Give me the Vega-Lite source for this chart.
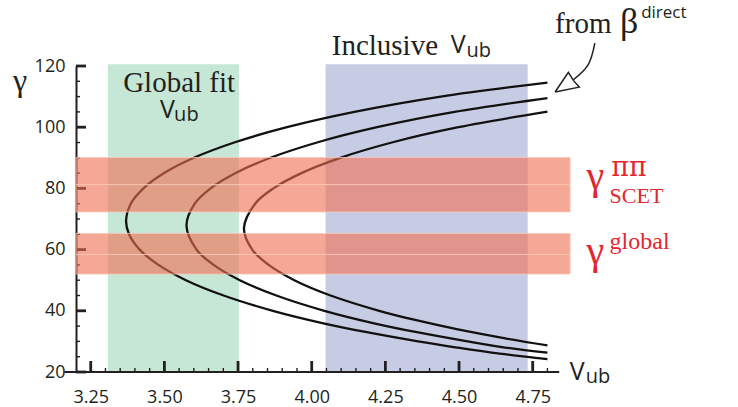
{
  "$schema": "https://vega.github.io/schema/vega-lite/v6.json",
  "width": 495,
  "height": 306,
  "autosize": {"type": "none"},
  "padding": {"left": 76, "top": 66, "right": 167, "bottom": 35},
  "background": "white",
  "config": {"view": {"stroke": null}},
  "datasets": {
    "green": [{"x": 3.308, "x2": 3.753, "y": 20, "y2": 120.6}],
    "blue": [{"x": 4.047, "x2": 4.733, "y": 20, "y2": 120.6}],
    "red": [
      {"x": 3.2, "x2": 4.877, "y": 81.2, "y2": 90.1},
      {"x": 3.2, "x2": 4.877, "y": 72.3, "y2": 81.2},
      {"x": 3.2, "x2": 4.877, "y": 58.4, "y2": 65.3},
      {"x": 3.2, "x2": 4.877, "y": 52.0, "y2": 58.4}
    ],
    "xMajor": [{"v": 3.25}, {"v": 3.5}, {"v": 3.75}, {"v": 4.0}, {"v": 4.25}, {"v": 4.5}, {"v": 4.75}],
    "xMinor": [{"v": 3.3}, {"v": 3.35}, {"v": 3.4}, {"v": 3.45}, {"v": 3.55}, {"v": 3.6}, {"v": 3.65}, {"v": 3.7},
      {"v": 3.8}, {"v": 3.85}, {"v": 3.9}, {"v": 3.95}, {"v": 4.05}, {"v": 4.1}, {"v": 4.15}, {"v": 4.2},
      {"v": 4.3}, {"v": 4.35}, {"v": 4.4}, {"v": 4.45}, {"v": 4.55}, {"v": 4.6}, {"v": 4.65}, {"v": 4.7}, {"v": 4.8}],
    "yMajor": [{"g": 20}, {"g": 40}, {"g": 60}, {"g": 80}, {"g": 100}, {"g": 120}],
    "yMinor": [{"g": 25}, {"g": 30}, {"g": 35}, {"g": 45}, {"g": 50}, {"g": 55}, {"g": 65}, {"g": 70}, {"g": 75},
      {"g": 85}, {"g": 90}, {"g": 95}, {"g": 105}, {"g": 110}, {"g": 115}],
    "curves": [
      {"c": 1, "i": 0, "v": 4.800, "g": 24.2}, {"c": 1, "i": 1, "v": 4.638, "g": 26}, {"c": 1, "i": 2, "v": 4.493, "g": 28},
      {"c": 1, "i": 3, "v": 4.361, "g": 30}, {"c": 1, "i": 4, "v": 4.187, "g": 33}, {"c": 1, "i": 5, "v": 4.036, "g": 36},
      {"c": 1, "i": 6, "v": 3.868, "g": 40}, {"c": 1, "i": 7, "v": 3.701, "g": 45}, {"c": 1, "i": 8, "v": 3.573, "g": 50},
      {"c": 1, "i": 9, "v": 3.480, "g": 55}, {"c": 1, "i": 10, "v": 3.416, "g": 60}, {"c": 1, "i": 11, "v": 3.380, "g": 65},
      {"c": 1, "i": 12, "v": 3.370, "g": 69.4}, {"c": 1, "i": 13, "v": 3.386, "g": 75}, {"c": 1, "i": 14, "v": 3.429, "g": 80},
      {"c": 1, "i": 15, "v": 3.499, "g": 85}, {"c": 1, "i": 16, "v": 3.600, "g": 90}, {"c": 1, "i": 17, "v": 3.737, "g": 95},
      {"c": 1, "i": 18, "v": 3.916, "g": 100}, {"c": 1, "i": 19, "v": 4.145, "g": 105}, {"c": 1, "i": 20, "v": 4.438, "g": 110},
      {"c": 1, "i": 21, "v": 4.800, "g": 114.6},
      {"c": 2, "i": 0, "v": 4.800, "g": 26.3}, {"c": 2, "i": 1, "v": 4.656, "g": 28}, {"c": 2, "i": 2, "v": 4.529, "g": 30},
      {"c": 2, "i": 3, "v": 4.357, "g": 33}, {"c": 2, "i": 4, "v": 4.208, "g": 36}, {"c": 2, "i": 5, "v": 4.043, "g": 40},
      {"c": 2, "i": 6, "v": 3.880, "g": 45}, {"c": 2, "i": 7, "v": 3.756, "g": 50}, {"c": 2, "i": 8, "v": 3.667, "g": 55},
      {"c": 2, "i": 9, "v": 3.609, "g": 60}, {"c": 2, "i": 10, "v": 3.575, "g": 67.85}, {"c": 2, "i": 11, "v": 3.603, "g": 75},
      {"c": 2, "i": 12, "v": 3.657, "g": 80}, {"c": 2, "i": 13, "v": 3.742, "g": 85}, {"c": 2, "i": 14, "v": 3.860, "g": 90},
      {"c": 2, "i": 15, "v": 4.018, "g": 95}, {"c": 2, "i": 16, "v": 4.222, "g": 100}, {"c": 2, "i": 17, "v": 4.485, "g": 105},
      {"c": 2, "i": 18, "v": 4.800, "g": 109.5},
      {"c": 3, "i": 0, "v": 4.800, "g": 28.7}, {"c": 3, "i": 1, "v": 4.657, "g": 31}, {"c": 3, "i": 2, "v": 4.492, "g": 34},
      {"c": 3, "i": 3, "v": 4.351, "g": 37}, {"c": 3, "i": 4, "v": 4.229, "g": 40}, {"c": 3, "i": 5, "v": 4.064, "g": 45},
      {"c": 3, "i": 6, "v": 3.941, "g": 50}, {"c": 3, "i": 7, "v": 3.854, "g": 55}, {"c": 3, "i": 8, "v": 3.798, "g": 60},
      {"c": 3, "i": 9, "v": 3.770, "g": 66.95}, {"c": 3, "i": 10, "v": 3.808, "g": 75}, {"c": 3, "i": 11, "v": 3.870, "g": 80},
      {"c": 3, "i": 12, "v": 3.965, "g": 85}, {"c": 3, "i": 13, "v": 4.097, "g": 90}, {"c": 3, "i": 14, "v": 4.272, "g": 95},
      {"c": 3, "i": 15, "v": 4.498, "g": 100}, {"c": 3, "i": 16, "v": 4.800, "g": 105.1}
    ],
    "arrowShaft": [
      {"i": 0, "v": 4.961, "g": 127.5}, {"i": 1, "v": 4.938, "g": 120.4}, {"i": 2, "v": 4.888, "g": 115.5}
    ],
    "arrowHead": [
      {"i": 0, "v": 4.826, "g": 111.5}, {"i": 1, "v": 4.871, "g": 117.9}, {"i": 2, "v": 4.888, "g": 115.3},
      {"i": 3, "v": 4.908, "g": 113.1}, {"i": 4, "v": 4.826, "g": 111.5}
    ],
    "xline": [{"x": 3.16, "x2": 4.84, "y": 20}],
    "serifText": [
      {"t": "Global fit", "x": 3.360, "y": 111.6},
      {"t": "Inclusive", "x": 4.068, "y": 123.7},
      {"t": "from", "x": 4.826, "y": 130.9}
    ],
    "vText": [
      {"t": "V", "x": 3.485, "y": 103.1},
      {"t": "V", "x": 4.472, "y": 124.25},
      {"t": "V", "x": 4.876, "y": 17.5}
    ],
    "ubText": [
      {"t": "ub", "x": 3.533, "y": 101.9},
      {"t": "ub", "x": 4.525, "y": 123.1},
      {"t": "ub", "x": 4.930, "y": 16.5}
    ],
    "betaText": [{"t": "β", "x": 5.046, "y": 130.8}],
    "directText": [{"t": "direct", "x": 5.118, "y": 135.6}],
    "gammaAxis": [{"t": "γ", "x": 2.986, "y": 111.7}],
    "redGamma": [{"t": "γ", "x": 4.933, "y": 79.8}, {"t": "γ", "x": 4.933, "y": 55.2}],
    "piText": [{"t": "ππ", "x": 5.017, "y": 83.9}],
    "scetText": [{"t": "SCET", "x": 5.011, "y": 75.2}],
    "globalText": [{"t": "global", "x": 5.011, "y": 60.1}]
  },
  "layer": [
    {
      "data": {"name": "green"},
      "mark": {"type": "rect", "color": "#8FD0AE", "opacity": 0.5},
      "encoding": {
        "x": {"field": "x", "type": "quantitative",
          "scale": {"domain": [3.2, 4.88], "nice": false, "zero": false},
          "axis": {
            "orient": "bottom",
            "values": [3.25, 3.5, 3.75, 4.0, 4.25, 4.5, 4.75],
            "format": ".2f",
            "ticks": false,
            "tickSize": 0,
            "domain": false,
            "grid": false,
            "title": null,
            "labelFont": "Open Sans",
            "labelFontSize": 18,
            "labelColor": "#231F20",
            "labelPadding": 16,
            "labelOverlap": false,
            "labelFlush": false
          }
        },
        "x2": {"field": "x2"},
        "y": {"field": "y", "type": "quantitative",
          "scale": {"domain": [20, 120], "nice": false, "zero": false},
          "axis": {
            "orient": "left",
            "values": [20, 40, 60, 80, 100, 120],
            "ticks": false,
            "tickSize": 0,
            "domainColor": "#231F20",
            "domainWidth": 2,
            "grid": false,
            "title": null,
            "labelFont": "Open Sans",
            "labelFontSize": 18,
            "labelColor": "#231F20",
            "labelPadding": 11,
            "labelOverlap": false,
            "labelFlush": false
          }
        },
        "y2": {"field": "y2"}
      }
    },
    {
      "data": {"name": "blue"},
      "mark": {"type": "rect", "color": "#8F99CC", "opacity": 0.5},
      "encoding": {
        "x": {"field": "x", "type": "quantitative"},
        "x2": {"field": "x2"},
        "y": {"field": "y", "type": "quantitative"},
        "y2": {"field": "y2"}
      }
    },
    {
      "data": {"name": "xMajor"},
      "mark": {"type": "rule", "color": "#231F20", "strokeWidth": 2.8},
      "encoding": {
        "x": {"field": "v", "type": "quantitative"},
        "y": {"datum": 20, "type": "quantitative"},
        "y2": {"datum": 23.6}
      }
    },
    {
      "data": {"name": "xMinor"},
      "mark": {"type": "rule", "color": "#231F20", "strokeWidth": 1.4},
      "encoding": {
        "x": {"field": "v", "type": "quantitative"},
        "y": {"datum": 20, "type": "quantitative"},
        "y2": {"datum": 21.3}
      }
    },
    {
      "data": {"name": "yMajor"},
      "mark": {"type": "rule", "color": "#231F20", "strokeWidth": 2.8},
      "encoding": {
        "y": {"field": "g", "type": "quantitative"},
        "x": {"datum": 3.2, "type": "quantitative"},
        "x2": {"datum": 3.234}
      }
    },
    {
      "data": {"name": "yMinor"},
      "mark": {"type": "rule", "color": "#231F20", "strokeWidth": 1.4},
      "encoding": {
        "y": {"field": "g", "type": "quantitative"},
        "x": {"datum": 3.2, "type": "quantitative"},
        "x2": {"datum": 3.2136}
      }
    },
    {
      "data": {"name": "curves"},
      "mark": {"type": "line", "color": "#111111", "strokeWidth": 2.3, "interpolate": "catmull-rom"},
      "encoding": {
        "x": {"field": "v", "type": "quantitative"},
        "y": {"field": "g", "type": "quantitative"},
        "detail": {"field": "c"},
        "order": {"field": "i"}
      }
    },
    {
      "data": {"name": "red"},
      "mark": {"type": "rect", "color": "#F06E50", "fillOpacity": 0.6, "stroke": "#F9C8B8", "strokeWidth": 1, "strokeOpacity": 0.8},
      "encoding": {
        "x": {"field": "x", "type": "quantitative"},
        "x2": {"field": "x2"},
        "y": {"field": "y", "type": "quantitative"},
        "y2": {"field": "y2"}
      }
    },
    {
      "data": {"name": "xline"},
      "mark": {"type": "rule", "color": "#231F20", "strokeWidth": 2},
      "encoding": {
        "x": {"field": "x", "type": "quantitative"},
        "x2": {"field": "x2"},
        "y": {"field": "y", "type": "quantitative"}
      }
    },
    {
      "data": {"name": "arrowShaft"},
      "mark": {"type": "line", "color": "#231F20", "strokeWidth": 1.5, "interpolate": "catmull-rom"},
      "encoding": {
        "x": {"field": "v", "type": "quantitative"},
        "y": {"field": "g", "type": "quantitative"},
        "order": {"field": "i"}
      }
    },
    {
      "data": {"name": "arrowHead"},
      "mark": {"type": "line", "color": "#231F20", "strokeWidth": 1.5, "strokeJoin": "miter"},
      "encoding": {
        "x": {"field": "v", "type": "quantitative"},
        "y": {"field": "g", "type": "quantitative"},
        "order": {"field": "i"}
      }
    },
    {
      "data": {"name": "serifText"},
      "mark": {"type": "text", "font": "Liberation Serif", "fontSize": 29, "color": "#231F20", "align": "left", "baseline": "alphabetic"},
      "encoding": {
        "x": {"field": "x", "type": "quantitative"},
        "y": {"field": "y", "type": "quantitative"},
        "text": {"field": "t"}
      }
    },
    {
      "data": {"name": "vText"},
      "mark": {"type": "text", "font": "Open Sans", "fontSize": 25, "color": "#231F20", "align": "left", "baseline": "alphabetic"},
      "encoding": {
        "x": {"field": "x", "type": "quantitative"},
        "y": {"field": "y", "type": "quantitative"},
        "text": {"field": "t"}
      }
    },
    {
      "data": {"name": "ubText"},
      "mark": {"type": "text", "font": "Open Sans", "fontSize": 20, "color": "#231F20", "align": "left", "baseline": "alphabetic"},
      "encoding": {
        "x": {"field": "x", "type": "quantitative"},
        "y": {"field": "y", "type": "quantitative"},
        "text": {"field": "t"}
      }
    },
    {
      "data": {"name": "betaText"},
      "mark": {"type": "text", "font": "Liberation Serif", "fontSize": 36, "color": "#231F20", "align": "left", "baseline": "alphabetic"},
      "encoding": {
        "x": {"field": "x", "type": "quantitative"},
        "y": {"field": "y", "type": "quantitative"},
        "text": {"field": "t"}
      }
    },
    {
      "data": {"name": "directText"},
      "mark": {"type": "text", "font": "Open Sans", "fontSize": 17, "color": "#231F20", "align": "left", "baseline": "alphabetic"},
      "encoding": {
        "x": {"field": "x", "type": "quantitative"},
        "y": {"field": "y", "type": "quantitative"},
        "text": {"field": "t"}
      }
    },
    {
      "data": {"name": "gammaAxis"},
      "mark": {"type": "text", "font": "Liberation Serif", "fontSize": 32, "color": "#231F20", "align": "left", "baseline": "alphabetic"},
      "encoding": {
        "x": {"field": "x", "type": "quantitative"},
        "y": {"field": "y", "type": "quantitative"},
        "text": {"field": "t"}
      }
    },
    {
      "data": {"name": "redGamma"},
      "mark": {"type": "text", "font": "Liberation Serif", "fontSize": 40, "color": "#E4262D", "align": "left", "baseline": "alphabetic"},
      "encoding": {
        "x": {"field": "x", "type": "quantitative"},
        "y": {"field": "y", "type": "quantitative"},
        "text": {"field": "t"}
      }
    },
    {
      "data": {"name": "piText"},
      "mark": {"type": "text", "font": "DejaVu Serif", "fontSize": 27, "color": "#E4262D", "align": "left", "baseline": "alphabetic"},
      "encoding": {
        "x": {"field": "x", "type": "quantitative"},
        "y": {"field": "y", "type": "quantitative"},
        "text": {"field": "t"}
      }
    },
    {
      "data": {"name": "scetText"},
      "mark": {"type": "text", "font": "Liberation Serif", "fontSize": 22, "color": "#E4262D", "align": "left", "baseline": "alphabetic"},
      "encoding": {
        "x": {"field": "x", "type": "quantitative"},
        "y": {"field": "y", "type": "quantitative"},
        "text": {"field": "t"}
      }
    },
    {
      "data": {"name": "globalText"},
      "mark": {"type": "text", "font": "Liberation Serif", "fontSize": 24, "color": "#E4262D", "align": "left", "baseline": "alphabetic"},
      "encoding": {
        "x": {"field": "x", "type": "quantitative"},
        "y": {"field": "y", "type": "quantitative"},
        "text": {"field": "t"}
      }
    }
  ]
}
